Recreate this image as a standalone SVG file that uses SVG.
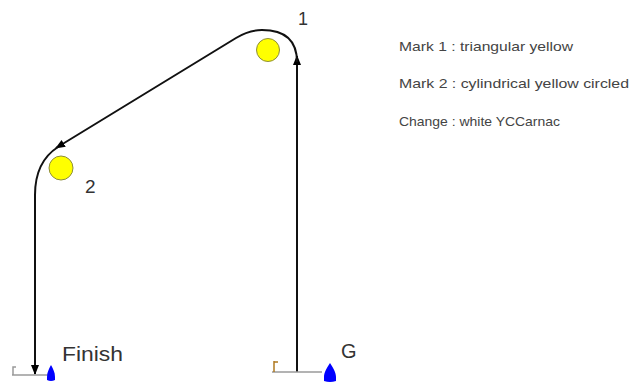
<svg xmlns="http://www.w3.org/2000/svg" width="633" height="383" viewBox="0 0 633 383">
<defs>
<marker id="arr" viewBox="0 0 10 10" refX="9" refY="5" markerWidth="5" markerHeight="5" orient="auto" markerUnits="strokeWidth">
<path d="M0,1 L10,5 L0,9 Z" fill="#000"/>
</marker>
<style>
.route{fill:none;stroke:#111;stroke-width:2}
.mark{fill:#ffff00;stroke:#8c8c3c;stroke-width:1}
.line{stroke:#9a9a9a;stroke-width:1.5;fill:none}
.boat{fill:#0000ff}
.lbl{font-family:"Liberation Sans",Arial,sans-serif;fill:#333}
.leg{font-family:"Liberation Sans",Arial,sans-serif;fill:#444;font-size:13px}
</style>
</defs>
<rect width="633" height="383" fill="#fff"/>
<g id="connectors">
<path class="route" d="M297,372 L297,56" marker-end="url(#arr)"/>
<path class="route" d="M297,62 C297,40 284,30 262,30 C252,30 244,33 236,38 L56,148" marker-end="url(#arr)"/>
<path class="route" d="M58,147 C44,156 35,172 35,195 L35,374" marker-end="url(#arr)"/>
</g>
<g id="mark1">
<circle class="mark" cx="268" cy="50" r="11.5"/>
<text class="lbl" x="298" y="25" font-size="18">1</text>
</g>
<g id="mark2">
<circle class="mark" cx="61" cy="168" r="12"/>
<text class="lbl" x="85" y="193" font-size="19">2</text>
</g>
<g id="finish">
<path class="line" d="M12,375 L48,375 M13,375 L13,367 L16,367"/>
<path class="boat" d="M51,365 C53,369 55,372 55,377 L55,380 Q51,382 47,380 L47,377 C47,372 49,369 51,365 Z"/>
<text class="lbl" x="62" y="361" font-size="21" textLength="61" lengthAdjust="spacingAndGlyphs">Finish</text>
</g>
<g id="start">
<path class="line" d="M272,372 L322,372"/>
<path d="M274,372 L274,361 M274,362 L278,362" stroke="#b07a20" stroke-width="1.5" fill="none"/>
<path class="boat" d="M330,363 C333,368 336,372 336,377 L336,381 Q330,383 324,381 L324,377 C324,372 327,368 330,363 Z"/>
<text class="lbl" x="341" y="358" font-size="20">G</text>
</g>
<g id="legend">
<text class="leg" x="399" y="51" textLength="174" lengthAdjust="spacingAndGlyphs">Mark 1 : triangular yellow</text>
<text class="leg" x="399" y="88" textLength="230" lengthAdjust="spacingAndGlyphs">Mark 2 : cylindrical yellow circled</text>
<text class="leg" x="399" y="126" textLength="161" lengthAdjust="spacingAndGlyphs">Change : white YCCarnac</text>
</g>
</svg>
